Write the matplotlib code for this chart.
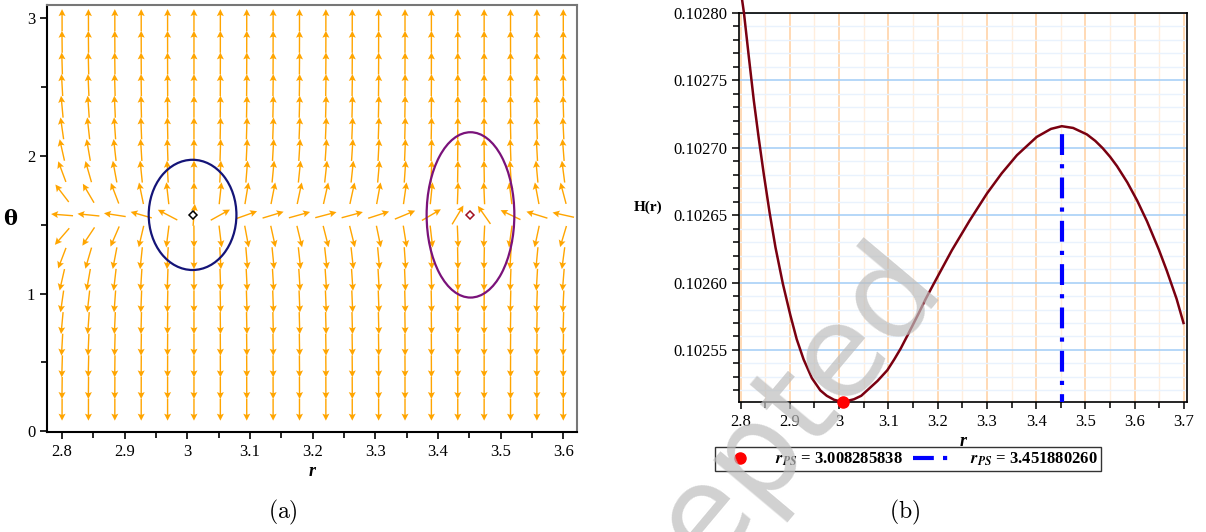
import numpy as np
import matplotlib.pyplot as plt
import matplotlib.ticker as mticker
from matplotlib.patches import Ellipse
from matplotlib.lines import Line2D

plt.rcParams['font.family'] = ['Liberation Serif', 'DejaVu Serif']
plt.rcParams['mathtext.fontset'] = 'stix'

# ---- data ----
# (a) direction field on a 20 x 19 grid: horizontal weight per column, vertical weight per row
r_cols = np.linspace(2.8, 3.6, 20)
theta_rows = np.linspace(np.pi / 20, 19 * np.pi / 20, 19)
u_col = [-0.13, -0.10, -0.065, -0.035, -0.019, 0.0008, 0.018, 0.028, 0.033, 0.036,
         0.038, 0.037, 0.031, 0.024, 0.017, 0.006, -0.007, -0.021, -0.032, -0.045]
v_row = [-40, -10, -4.3, -2.3, -1.4, -0.9, -0.57, -0.34, -0.15, 0.01,
         0.17, 0.35, 0.58, 0.91, 1.42, 2.35, 4.3, 10, 40]

# closed loops around the two critical points
r_ps = [3.008285838, 3.451880260]
loop_dr = [0.070, 0.070]
loop_dtheta = [0.40, 0.60]
loop_colors = ['#141478', '#7a127a']
point_colors = ['black', '#a01020']

# (b) H(r) curve
r_curve = [2.800, 2.807, 2.817, 2.827, 2.837, 2.847, 2.859, 2.871, 2.886, 2.901,
           2.914, 2.928, 2.945, 2.962, 2.975, 2.990, 3.008, 3.030, 3.045, 3.057,
           3.078, 3.098, 3.112, 3.125, 3.142, 3.160, 3.176, 3.192, 3.229, 3.265,
           3.300, 3.330, 3.361, 3.401, 3.430, 3.452, 3.475, 3.503, 3.520, 3.535,
           3.550, 3.564, 3.585, 3.605, 3.625, 3.649, 3.665, 3.685, 3.699]
H_curve = [0.102818, 0.102800, 0.102767, 0.102735, 0.102707, 0.102681, 0.102652, 0.102626, 0.102599, 0.102576,
           0.102558, 0.102543, 0.102529, 0.102520, 0.102516, 0.102513, 0.1025114, 0.1025134, 0.102516, 0.102520,
           0.102527, 0.102535, 0.102543, 0.102551, 0.102563, 0.102576, 0.102588, 0.102599, 0.102624, 0.102646,
           0.102666, 0.102681, 0.1026945, 0.102708, 0.102714, 0.102716, 0.1027147, 0.1027099, 0.1027051, 0.1026997,
           0.1026933, 0.1026864, 0.1026743, 0.1026608, 0.1026454, 0.1026244, 0.1026089, 0.1025879, 0.102570]
H_min = 0.1025114
H_max = 0.102716

fig = plt.figure(figsize=(12.06, 5.32), dpi=100)

# ---------------- (a) ----------------
ax1 = fig.add_axes([0.039, 0.188, 0.4395, 0.8025])
R, T = np.meshgrid(r_cols, theta_rows)
U = np.tile(np.array(u_col), (len(theta_rows), 1))
V = np.tile(np.array(v_row)[:, None], (1, len(r_cols)))
n = np.hypot(U, V)
ax1.quiver(R, T, U / n, V / n, angles='uv', pivot='middle', units='inches',
           scale_units='inches', scale=1 / 0.22, width=0.014, headwidth=5,
           headlength=5, headaxislength=4.2, color='#FFA500', zorder=2)

for rc, dr, dt, col, pc in zip(r_ps, loop_dr, loop_dtheta, loop_colors, point_colors):
    ax1.add_patch(Ellipse((rc, np.pi / 2), 2 * dr, 2 * dt, fill=False, ec=col, lw=1.6, zorder=3))
    ax1.plot(rc, np.pi / 2, marker='D', ms=4.5, mfc='white', mec=pc, mew=1.1, zorder=4)

ax1.set_xlim(2.776, 3.622)
ax1.set_ylim(-0.005, 3.094)
ax1.xaxis.set_major_locator(mticker.MultipleLocator(0.1))
ax1.xaxis.set_minor_locator(mticker.MultipleLocator(0.05))
ax1.yaxis.set_major_locator(mticker.MultipleLocator(1))
ax1.yaxis.set_minor_locator(mticker.MultipleLocator(0.5))
ax1.xaxis.set_major_formatter(mticker.FormatStrFormatter('%g'))
ax1.tick_params(which='both', direction='out', labelsize=12, width=1.2)
ax1.tick_params(which='major', length=5)
ax1.tick_params(which='minor', length=4)
for s in ['left', 'bottom']:
    ax1.spines[s].set_linewidth(1.5)
for s in ['top', 'right']:
    ax1.spines[s].set_color('#777777')
    ax1.spines[s].set_linewidth(1.5)
ax1.set_xlabel('r', fontsize=13, fontweight='bold', style='italic', labelpad=2)
ax1.set_ylabel('θ', fontsize=15, fontweight='bold', rotation=0, labelpad=12, va='center',
               family=['DejaVu Serif'])

# ---------------- (b) ----------------
ax2 = fig.add_axes([0.6128, 0.2444, 0.3714, 0.7312])
ax2.plot(r_curve, H_curve, color='#7a0010', lw=1.8, clip_on=False, zorder=4,
         solid_joinstyle='round')
ax2.vlines(r_ps[1], H_min - 0.00001, H_max, colors='blue', lw=3,
           linestyles=[(0, (5, 2.2, 1, 2.2))], zorder=3)
ax2.plot(r_ps[0], H_min, 'o', color='red', ms=8, clip_on=False, zorder=5)

ax2.set_xlim(2.797, 3.706)
ax2.set_ylim(0.1025114, 0.10280)
ax2.xaxis.set_major_locator(mticker.MultipleLocator(0.1))
ax2.xaxis.set_minor_locator(mticker.MultipleLocator(0.05))
ax2.yaxis.set_major_locator(mticker.MultipleLocator(0.00005))
ax2.yaxis.set_minor_locator(mticker.MultipleLocator(0.00001))
ax2.xaxis.set_major_formatter(mticker.FormatStrFormatter('%g'))
ax2.yaxis.set_major_formatter(mticker.FormatStrFormatter('%.5f'))
ax2.grid(which='major', axis='x', color='#FFD3A8', lw=1.2)
ax2.grid(which='minor', axis='x', color='#FFEEDD', lw=1.0)
ax2.grid(which='major', axis='y', color='#A9D1F7', lw=1.2)
ax2.grid(which='minor', axis='y', color='#E9F2FD', lw=1.0)
ax2.set_axisbelow(True)
ax2.tick_params(which='both', direction='out', labelsize=12, width=1.1)
ax2.tick_params(which='major', length=5)
ax2.tick_params(which='minor', length=4)
for s in ax2.spines.values():
    s.set_linewidth(1.2)
ax2.set_xlabel('r', fontsize=13, fontweight='bold', style='italic', labelpad=2)
ax2.set_ylabel('H(r)', fontsize=11, fontweight='bold', rotation=0, labelpad=18, va='center')

handles = [Line2D([], [], marker='o', color='red', ls='none', ms=8),
           Line2D([], [], color='blue', lw=3, ls=(0, (5, 2.2, 1, 2.2)))]
labels = [r'$\mathbfit{r}_{\mathbfit{PS}}$' + ' = %.9f' % r_ps[0],
          r'$\mathbfit{r}_{\mathbfit{PS}}$' + ' = %.9f' % r_ps[1]]
fig.legend(handles, labels, loc='upper center', bbox_to_anchor=(908 / 1206, 1 - 447 / 532),
           ncol=2, fancybox=False, edgecolor='#333333', framealpha=1,
           prop={'weight': 'bold', 'size': 12}, borderpad=0.2, borderaxespad=0,
           handlelength=2.6, columnspacing=0.6, handletextpad=0.8)

fig.text(283 / 1206, 1 - 512 / 532, r'$\mathrm{(a)}$', math_fontfamily='cm', fontsize=17,
         ha='center', va='center')
fig.text(905 / 1206, 1 - 512 / 532, r'$\mathrm{(b)}$', math_fontfamily='cm', fontsize=17,
         ha='center', va='center')

fig.text(728 / 1206, 1 - 495 / 532, 'Accepted', rotation=50, color='#bdbdbd', alpha=0.7,
         fontsize=92, family='DejaVu Sans', ha='center', va='center', zorder=10)

fig.savefig('out.png', dpi=100)
